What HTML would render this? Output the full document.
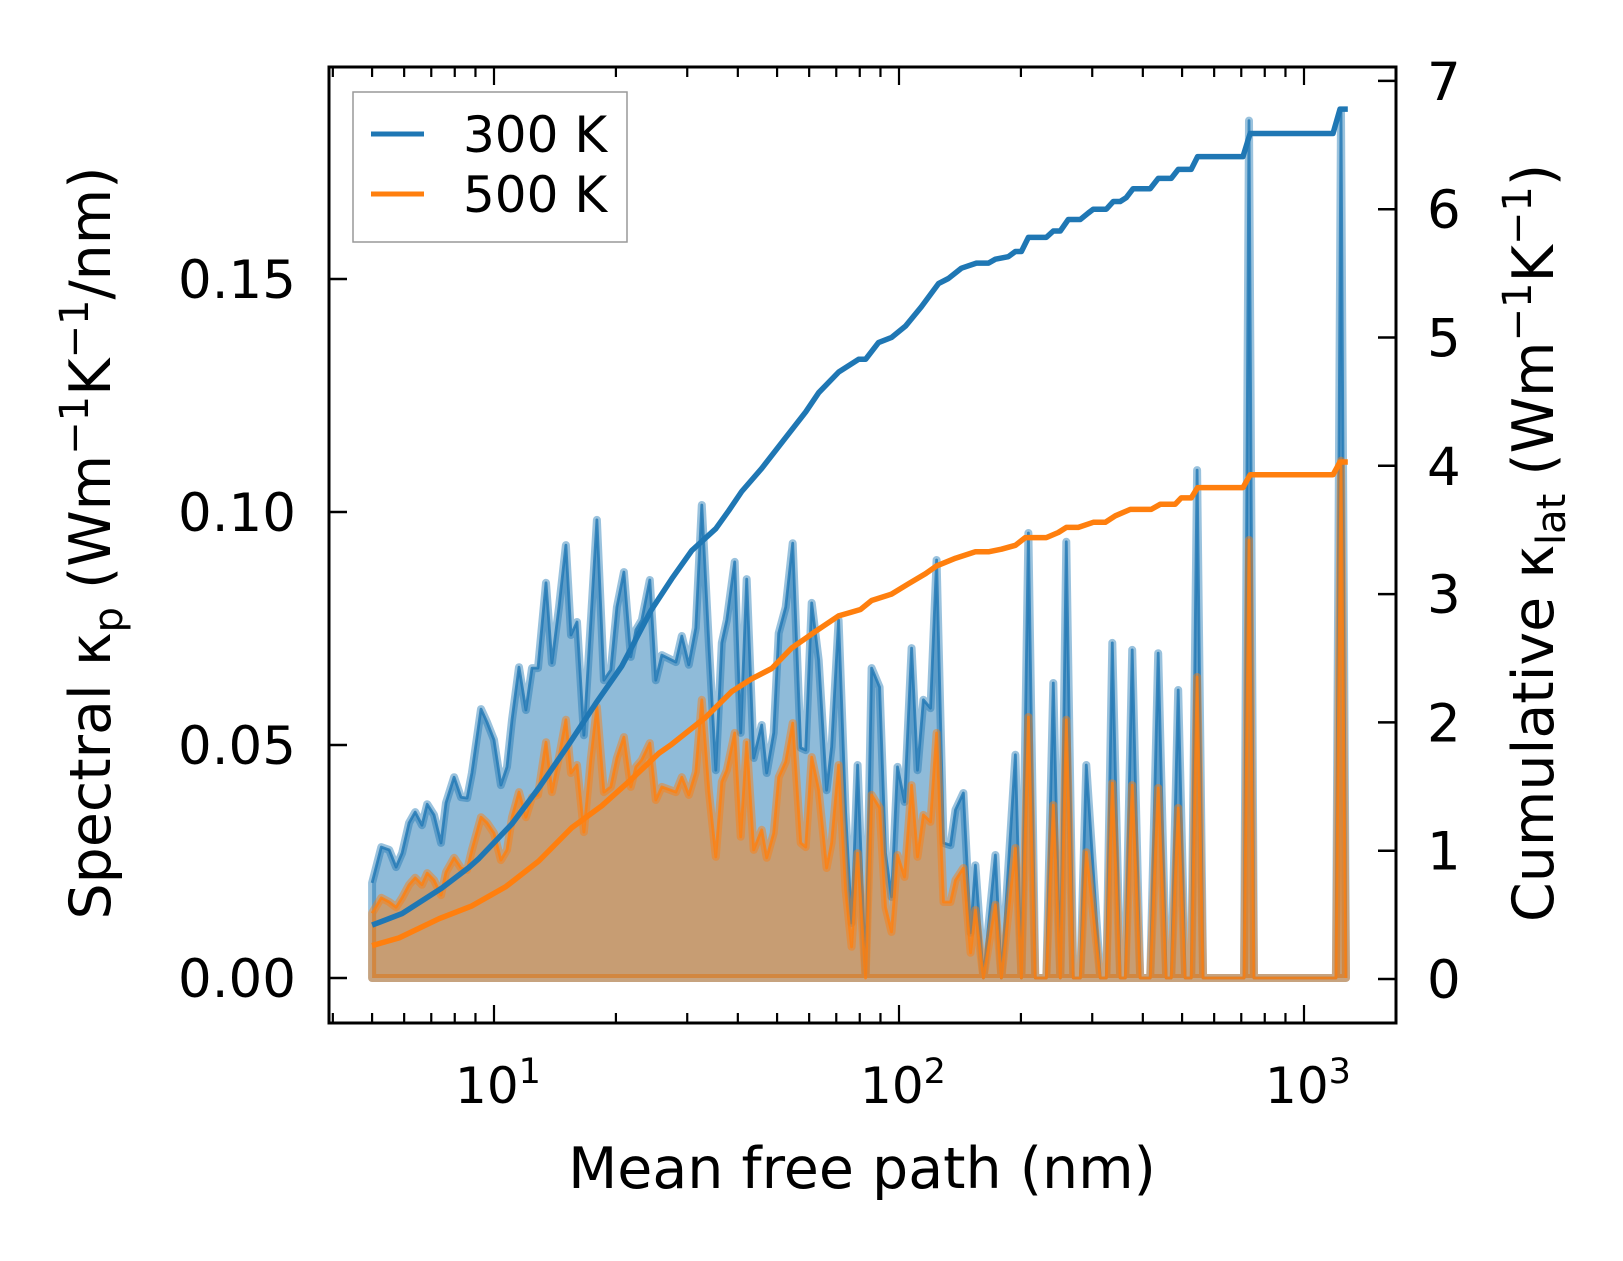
<!DOCTYPE html>
<html><head><meta charset="utf-8"><style>
html,body{margin:0;padding:0;background:#fff;}
svg{display:block;font-family:"DejaVu Sans","Liberation Sans",sans-serif;}
</style></head><body>
<svg id="chart" width="1623" height="1261" viewBox="0 0 1623 1261" xmlns="http://www.w3.org/2000/svg">
<rect x="0" y="0" width="1623" height="1261" fill="#fff"/>
<g id="plot"></g>
<g id="axes"></g>
</svg>
<script>
// ---- data ----
const mfp = [5.00,5.27,5.51,5.73,5.93,6.17,6.39,6.64,6.84,7.11,7.40,7.61,7.97,8.29,8.58,8.82,9.29,9.61,10.0,10.4,10.77,11.08,11.53,11.99,12.41,12.84,13.44,13.90,14.47,15.05,15.49,16.03,16.67,17.35,17.95,18.68,19.43,20.11,20.93,21.77,22.40,23.17,24.25,25.09,25.96,28.12,29.09,30.27,31.49,32.59,33.91,35.29,36.51,37.56,39.30,40.66,42.07,43.78,45.81,47.13,49.04,50.45,52.50,54.63,57.17,58.82,60.86,63.33,66.27,68.17,70.94,73.82,76.38,79.03,82.69,85.56,89.54,92.63,95.84,99.15,103.2,107.4,111.1,114.9,119.6,123.8,128.8,134.0,137.9,144.2,150.2,154.4,161.6,173.0,179.0,193.8,200.5,208.7,217.1,231.1,240.4,250.2,258.9,269.4,280.3,290.0,314.1,324.9,336.2,351.8,362.0,376.6,394.1,417.2,436.5,456.8,469.9,489.0,508.9,526.5,544.6,563.5,711.1,731.6,752.6,1199,1234,1270];
const spec300 = [0.0204,0.0281,0.0275,0.0238,0.0268,0.0333,0.0356,0.0328,0.0373,0.0350,0.0290,0.0376,0.0431,0.0388,0.0386,0.0440,0.0577,0.0549,0.0511,0.0414,0.0453,0.0554,0.0667,0.0575,0.0665,0.0665,0.0848,0.0676,0.0796,0.0929,0.0736,0.0764,0.0521,0.0768,0.0983,0.0639,0.0661,0.0796,0.0871,0.0689,0.0747,0.0768,0.0854,0.0639,0.0693,0.0678,0.0734,0.0672,0.0751,0.1015,0.0719,0.0446,0.0719,0.0768,0.0893,0.0526,0.0856,0.0472,0.0543,0.0440,0.0526,0.0740,0.0796,0.0933,0.0494,0.0489,0.0805,0.0682,0.0403,0.0496,0.0768,0.0356,0.0118,0.0457,0.0006,0.0665,0.0624,0.0268,0.0174,0.0453,0.0378,0.0708,0.0446,0.0597,0.0579,0.0897,0.0290,0.0285,0.0361,0.0397,0.0097,0.0242,0,0.0264,0,0.0479,0,0.0955,0,0,0.0633,0,0.0936,0,0,0.0457,0,0,0.0719,0,0,0.0704,0,0,0.0697,0,0,0.0618,0,0,0.109,0,0,0.184,0,0,0.186,0];
const spec500 = [0.0139,0.0172,0.0163,0.0152,0.0172,0.0200,0.0215,0.0200,0.0225,0.0210,0.0178,0.0227,0.0258,0.0236,0.0232,0.0275,0.0345,0.0333,0.0311,0.0253,0.0275,0.0345,0.0399,0.0345,0.0388,0.0393,0.0506,0.0399,0.0474,0.0554,0.0440,0.0457,0.0313,0.0472,0.0582,0.0399,0.0410,0.0472,0.0517,0.0410,0.0453,0.0468,0.0504,0.0382,0.0410,0.0399,0.0431,0.0393,0.0442,0.0597,0.0403,0.0260,0.0421,0.0446,0.0526,0.0303,0.0506,0.0275,0.0318,0.0258,0.0311,0.0431,0.0464,0.0547,0.0290,0.0281,0.0474,0.0403,0.0236,0.0290,0.0457,0.0189,0.0067,0.0268,0,0.0393,0.0365,0.0152,0.0099,0.0264,0.0217,0.0414,0.0260,0.0350,0.0335,0.0526,0.0163,0.0163,0.0210,0.0236,0.0054,0.0146,0,0.0157,0,0.0279,0,0.0560,0,0,0.0371,0,0.0554,0,0,0.0270,0,0,0.0418,0,0,0.0414,0,0,0.0408,0,0,0.0365,0,0,0.0646,0,0,0.094,0,0,0.111,0];
const cumMfp300 = [5.00,5.93,7.44,8.67,9.18,11.08,12.91,15.31,17.85,20.69,24.39,27.48,30.79,35.29,37.97,40.90,45.81,52.50,58.82,63.33,70.94,79.47,82.69,89.0,95.84,103.8,113.6,125.2,132.4,142.6,155.3,166.3,173.0,186.2,193.8,200.5,208.7,231.1,240.4,250.2,261.8,280.3,293.4,301.8,324.9,338.1,351.8,363.9,378.5,417.2,436.5,469.9,489.0,526.5,546,707,736,1179,1227,1283];
const cum300 = [0.42,0.51,0.71,0.87,0.94,1.21,1.49,1.83,2.15,2.44,2.87,3.12,3.34,3.51,3.65,3.80,3.98,4.22,4.42,4.57,4.73,4.83,4.83,4.96,5.00,5.09,5.24,5.42,5.46,5.54,5.58,5.58,5.61,5.63,5.67,5.67,5.78,5.78,5.83,5.83,5.92,5.92,5.97,6.00,6.00,6.06,6.06,6.09,6.16,6.16,6.24,6.24,6.31,6.31,6.41,6.41,6.59,6.59,6.78,6.78];
const cumMfp500 = [5.00,5.83,7.32,8.82,10.7,12.9,15.57,18.46,21.89,25.53,27.48,33.33,38.63,43.28,48.50,54.33,62.26,70.94,76.38,80.35,85.56,95.84,105.5,116.3,123.8,137.9,154.4,166.3,179.0,193.8,205.1,231.1,247.4,258.9,277.2,301.8,323.1,342.0,372.4,419.6,441.5,480.8,497.5,526.5,546,707,736,1179,1227,1283];
const cum500 = [0.26,0.32,0.47,0.57,0.72,0.92,1.18,1.35,1.56,1.76,1.83,2.04,2.24,2.34,2.42,2.58,2.71,2.83,2.86,2.88,2.95,3.00,3.08,3.16,3.22,3.28,3.33,3.33,3.35,3.38,3.44,3.44,3.48,3.52,3.52,3.56,3.56,3.61,3.66,3.66,3.70,3.70,3.75,3.75,3.83,3.83,3.93,3.93,4.03,4.03];
const leftTicks = [0, 0.05, 0.10, 0.15];
const leftTickLabels = ["0.00","0.05","0.10","0.15"];
const rightTicks = [0,1,2,3,4,5,6,7];
const xMajor = [1,2,3];

// ---- axis functions ----
const X0 = 329, X1 = 1396, Y0 = 67, Y1 = 1023;
function xs(m){ return 494 + 405*(Math.log10(m) - 1); }
function yl(v){ return 978 - v*4660; }
function yr(c){ return 979 - c*128.3; }

const NS = "http://www.w3.org/2000/svg";
function mk(tag, attrs, parent){ const e = document.createElementNS(NS, tag); for (const k in attrs) e.setAttribute(k, attrs[k]); parent.appendChild(e); return e; }
const plot = document.getElementById('plot');
const axes = document.getElementById('axes');

const BLUE = '#1f77b4', ORANGE = '#ff7f0e';
function spectral(vals, color, name){
  let pts = vals.map((v,i)=> xs(mfp[i]).toFixed(1)+','+yl(v).toFixed(1));
  const fillPts = xs(mfp[0]).toFixed(1)+','+yl(0)+' '+pts.join(' ')+' '+xs(mfp[mfp.length-1]).toFixed(1)+','+yl(0);
  const f = mk('polygon', {points: fillPts, fill: color, 'fill-opacity': 0.5, stroke: color, 'stroke-opacity': 0.45, 'stroke-width': 8, 'stroke-linejoin':'round'}, plot);
  
  
  const l = mk('polyline', {points: pts.join(' '), fill: 'none', stroke: color, 'stroke-opacity': 0.8, 'stroke-width': 2.8, 'stroke-linejoin':'round'}, plot);
  
  
}
spectral(spec300, BLUE, 'spectral-300k');
spectral(spec500, ORANGE, 'spectral-500k');

function cumLine(ms, vals, color, name){
  const pts = vals.map((v,i)=> xs(ms[i]).toFixed(1)+','+yr(v).toFixed(1)).join(' ');
  const l = mk('polyline', {points: pts, fill: 'none', stroke: color, 'stroke-width': 5.5, 'stroke-linejoin':'round'}, plot);
  
  
}
cumLine(cumMfp300, cum300, BLUE, 'cumulative-300k');
cumLine(cumMfp500, cum500, ORANGE, 'cumulative-500k');

const sp = mk('rect', {x: X0, y: Y0, width: X1-X0, height: Y1-Y0, fill: 'none', stroke: '#000', 'stroke-width': 3}, axes);



leftTicks.forEach((t,i)=>{
  const y = yl(t);
  const tk = mk('line', {x1: X0, x2: X0+18, y1: y, y2: y, stroke:'#000','stroke-width':2.5}, axes);
  
  
  const tx = mk('text', {x: 296, y: y+19, 'text-anchor':'end', 'font-size': 53, fill:'#000'}, axes);
  tx.textContent = leftTickLabels[i];
  
  
});
rightTicks.forEach(t=>{
  const y = yr(t);
  const tk = mk('line', {x1: X1-18, x2: X1, y1: y, y2: y, stroke:'#000','stroke-width':2.5}, axes);
  
  
  const tx = mk('text', {x: 1427, y: y+19, 'text-anchor':'start', 'font-size': 53, fill:'#000'}, axes);
  tx.textContent = String(t);
  
  
});
for (let dec = 0; dec <= 3; dec++){
  for (let k = 1; k <= 9; k++){
    const m = k*Math.pow(10,dec);
    const x = xs(m);
    if (x < X0+2 || x > X1-2) continue;
    const len = k===1 ? 18 : 10;
    const b = mk('line', {x1:x, x2:x, y1:Y1, y2:Y1-len, stroke:'#000','stroke-width':2.2}, axes);
    
    
    const t = mk('line', {x1:x, x2:x, y1:Y0, y2:Y0+len, stroke:'#000','stroke-width':2.2}, axes);
    
    
  }
}
xMajor.forEach(p=>{
  const x = xs(Math.pow(10,p));
  const tx = mk('text', {x: x+4, y: 1103, 'text-anchor':'middle', 'font-size': 50, fill:'#000'}, axes);
  
  
  const a = document.createElementNS(NS,'tspan'); a.textContent = '10'; tx.appendChild(a);
  const s = document.createElementNS(NS,'tspan'); s.textContent = String(p); s.setAttribute('font-size','35'); s.setAttribute('dy','-20'); tx.appendChild(s);
});
</script>
<svg style="position:absolute;left:0;top:0" width="1623" height="1261" viewBox="0 0 1623 1261" xmlns="http://www.w3.org/2000/svg" font-family="DejaVu Sans, Liberation Sans, sans-serif">
<text x="862" y="1188" text-anchor="middle" font-size="57">Mean free path (nm)</text>
<text transform="translate(110,543) rotate(-90)" text-anchor="middle" font-size="57">Spectral κ<tspan font-size="40" dy="12">p</tspan><tspan dy="-12"> (Wm</tspan><tspan font-size="40" dy="-22">−1</tspan><tspan dy="22">K</tspan><tspan font-size="40" dy="-22">−1</tspan><tspan dy="22">/nm)</tspan></text>
<text transform="translate(1553,543) rotate(-90)" text-anchor="middle" font-size="57">Cumulative κ<tspan font-size="40" dy="12">lat</tspan><tspan dy="-12"> (Wm</tspan><tspan font-size="40" dy="-22">−1</tspan><tspan dy="22">K</tspan><tspan font-size="40" dy="-22">−1</tspan><tspan dy="22">)</tspan></text>
<g>
<rect x="353" y="92" width="274" height="150" fill="#fff" fill-opacity="0.8" stroke="#999" stroke-width="1.5"/>
<line x1="371" x2="424" y1="134" y2="134" stroke="#1f77b4" stroke-width="5"/>
<text x="463" y="152" font-size="50">300 K</text>
<line x1="371" x2="424" y1="194" y2="194" stroke="#ff7f0e" stroke-width="5"/>
<text x="463" y="212" font-size="50">500 K</text>
</g>
</svg>
</body></html>
